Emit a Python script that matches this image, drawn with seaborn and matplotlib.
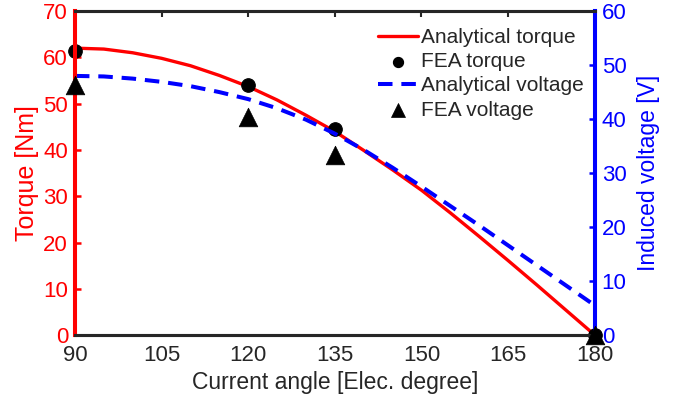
import numpy as np
import pandas as pd
import matplotlib
matplotlib.use("Agg")
import matplotlib.pyplot as plt
import seaborn as sns

# current angle grid for the analytical curves
angle = [90, 95, 100, 105, 110, 115, 120, 125, 130, 135,
         140, 145, 150, 155, 160, 165, 170, 175, 180]
torque_analytical = [62.0, 61.8, 61.0, 59.8, 58.2, 56.1, 53.7, 50.8, 47.5, 44.0,
                     39.9, 35.7, 31.3, 26.4, 21.3, 16.1, 10.8, 5.4, 0.0]
voltage_analytical = [48.0, 47.9, 47.5, 46.9, 46.1, 45.0, 43.7, 42.0, 39.9, 37.3,
                      34.3, 31.0, 27.5, 23.9, 20.3, 16.6, 12.9, 9.2, 5.5]

# FEA check points
fea_angle = [90, 120, 135, 180]
fea_torque = [61.3, 54.0, 44.5, 0.0]
fea_voltage = [46.3, 40.4, 33.4, 0.0]

sns.set_style("white")
plt.rcParams['font.family'] = ['Liberation Sans', 'DejaVu Sans']

RED = '#ff0000'
BLUE = '#0000ff'
GREY = '#262626'

df_an = pd.DataFrame({'angle': angle, 'torque': torque_analytical, 'voltage': voltage_analytical})
df_fea = pd.DataFrame({'angle': fea_angle, 'torque': fea_torque, 'voltage': fea_voltage})

fig = plt.figure(figsize=(6.94, 3.97), dpi=100)
ax = fig.add_axes([0.108, 0.156, 0.749, 0.816])
ax2 = ax.twinx()

sns.lineplot(data=df_an, x='angle', y='torque', ax=ax, color=RED, lw=2.4,
             label='Analytical torque', legend=False)
sns.scatterplot(data=df_fea, x='angle', y='torque', ax=ax, color='black', marker='o',
                s=95, edgecolor='black', linewidth=0.8, label='FEA torque',
                legend=False, zorder=5, clip_on=False)
sns.lineplot(data=df_an, x='angle', y='voltage', ax=ax2, color=BLUE, lw=2.9,
             label='Analytical voltage', legend=False)
ax2.lines[0].set_linestyle((0, (3.6, 2.2)))
sns.scatterplot(data=df_fea, x='angle', y='voltage', ax=ax2, color='black', marker='^',
                s=180, edgecolor='black', linewidth=0.5, label='FEA voltage',
                legend=False, zorder=5, clip_on=False)

ax.set_xlim(90, 180)
ax.set_ylim(0, 70)
ax2.set_ylim(0, 60)
ax.set_xticks([90, 105, 120, 135, 150, 165, 180])
ax.set_yticks(range(0, 71, 10))
ax2.set_yticks(range(0, 61, 10))

ax.set_xlabel('Current angle [Elec. degree]', fontsize=16.5, color=GREY)
ax.set_ylabel('Torque [Nm]', fontsize=18, color=RED)
ax2.set_ylabel('Induced voltage [V]', fontsize=16.5, color=BLUE)
ax.xaxis.set_label_coords(0.5, -0.112)
ax.yaxis.set_label_coords(-0.07, 0.5)
ax2.yaxis.set_label_coords(1.081, 0.5)

ax.tick_params(axis='x', direction='in', length=4, width=1.5, colors=GREY,
               labelsize=16, top=True, pad=7)
ax.tick_params(axis='y', direction='in', length=4.5, width=1.8, colors=RED, labelsize=16, pad=5)
ax2.tick_params(axis='y', direction='in', length=4.5, width=1.8, colors=BLUE, labelsize=16, pad=5)

for a in (ax, ax2):
    for side in ('top', 'bottom'):
        a.spines[side].set_color(GREY)
        a.spines[side].set_linewidth(2.2)
    a.spines['left'].set_color(RED)
    a.spines['left'].set_linewidth(2.9)
    a.spines['right'].set_color(BLUE)
    a.spines['right'].set_linewidth(2.9)

h1, l1 = ax.get_legend_handles_labels()
h2, l2 = ax2.get_legend_handles_labels()
handles = [h1[0], h1[1], h2[0], h2[1]]
labels = [l1[0], l1[1], l2[0], l2[1]]
leg = ax2.legend(handles, labels, loc='upper left', bbox_to_anchor=(0.583, 0.948),
                 frameon=False, fontsize=15, handlelength=1.9, handletextpad=0.15,
                 labelspacing=0.25, borderaxespad=0, borderpad=0, markerscale=0.75)

fig.savefig('out.png', dpi=100)
